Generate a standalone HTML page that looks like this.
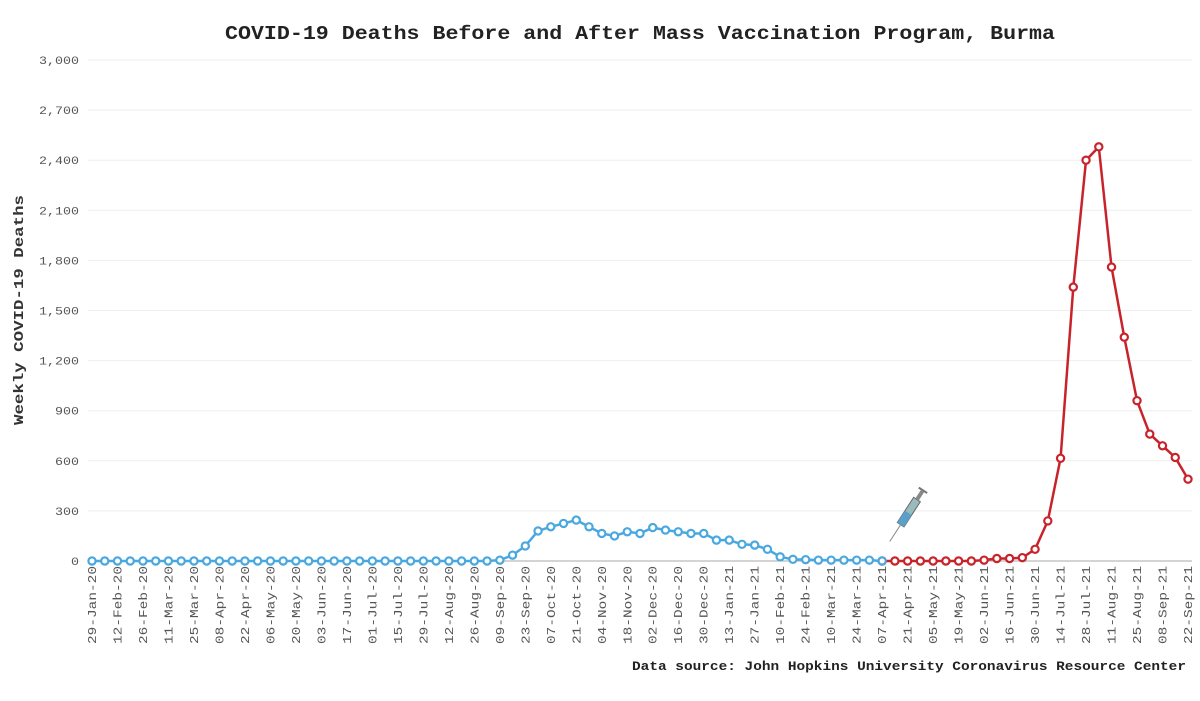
<!DOCTYPE html>
<html><head><meta charset="utf-8"><style>
html,body{margin:0;padding:0;background:#fff;}
svg{display:block;font-family:"Liberation Mono",monospace;}
</style></head><body>
<svg id="s" width="1200" height="701" viewBox="0 0 1200 701" xmlns="http://www.w3.org/2000/svg">
<text x="225" y="39" textLength="830" lengthAdjust="spacingAndGlyphs" font-size="19" font-weight="bold" fill="#222">COVID-19 Deaths Before and After Mass Vaccination Program, Burma</text>
<text transform="translate(23,425) rotate(-90)" textLength="230" lengthAdjust="spacingAndGlyphs" font-size="14" font-weight="bold" fill="#333">Weekly COVID-19 Deaths</text>
<text x="632" y="670" textLength="554" lengthAdjust="spacingAndGlyphs" font-size="12.5" font-weight="bold" fill="#222">Data source: John Hopkins University Coronavirus Resource Center</text>
<g id="g"></g>
<g transform="translate(905,518) rotate(-57)">
<rect x="-8" y="-4" width="30" height="8" fill="#9bb" stroke="#666" stroke-width="1"/>
<rect x="-8" y="-4" width="14" height="8" fill="#5aa0c8"/>
<rect x="22" y="-2" width="10" height="4" fill="#888"/>
<rect x="32" y="-5" width="2" height="10" fill="#777"/>
<line x1="-8" y1="0" x2="-28" y2="0" stroke="#888" stroke-width="1"/>
</g>
</svg>
<script>
var g=document.getElementById('g'),h='';
var y0=561,k=501/3000,x0=92,dx=(1188-92)/86;
for(var v=0;v<=3000;v+=300){var y=y0-v*k;var t=v.toLocaleString('en-US');
h+='<line x1="88" x2="1192" y1="'+y+'" y2="'+y+'" stroke="'+(v?'#eee':'#aaa')+'" stroke-width="1"/>';
h+='<text x="79" y="'+(y+4)+'" text-anchor="end" font-size="11" textLength="'+(t.length*8)+'" lengthAdjust="spacingAndGlyphs" fill="#555">'+t+'</text>';}
var d=[];for(var i=0;i<87;i++)d[i]=0;
var b={32:5,33:35,34:90,35:180,36:205,37:225,38:245,39:205,40:165,41:150,42:175,43:165,44:200,45:185,46:175,47:165,48:165,49:125,50:125,51:100,52:95,53:70,54:25,55:10,56:8,57:5,58:5,59:5,60:5,61:5,
70:5,71:15,72:15,73:20,74:70,75:240,76:615,77:1640,78:2400,79:2480,80:1760,81:1340,82:960,83:760,84:690,85:620,86:490};
for(var key in b)d[key]=b[key];
var st=new Date(2020,0,29),M=['Jan','Feb','Mar','Apr','May','Jun','Jul','Aug','Sep','Oct','Nov','Dec'];
for(var i=0;i<87;i+=2){var dt=new Date(st.getTime()+i*7*864e5);
var s=('0'+dt.getDate()).slice(-2)+'-'+M[dt.getMonth()]+'-'+String(dt.getFullYear()).slice(2);
var x=x0+i*dx;
h+='<text transform="translate('+(x+4)+',566) rotate(-90)" text-anchor="end" font-size="11.5" textLength="78" lengthAdjust="spacingAndGlyphs" fill="#555">'+s+'</text>';}
function P(a,c){var p='';for(var i=a[0];i<=a[1];i++)p+=(x0+i*dx)+','+(y0-d[i]*k)+' ';
h+='<polyline points="'+p+'" fill="none" stroke="'+c+'" stroke-width="2.5"/>';
for(var i=a[0];i<=a[1];i++)h+='<circle cx="'+(x0+i*dx)+'" cy="'+(y0-d[i]*k)+'" r="3.6" fill="#fff" stroke="'+c+'" stroke-width="2.2"/>';}
P([62,86],'#c8232b');P([0,62],'#4aa8e0');
g.innerHTML=h;
</script>
</body></html>
